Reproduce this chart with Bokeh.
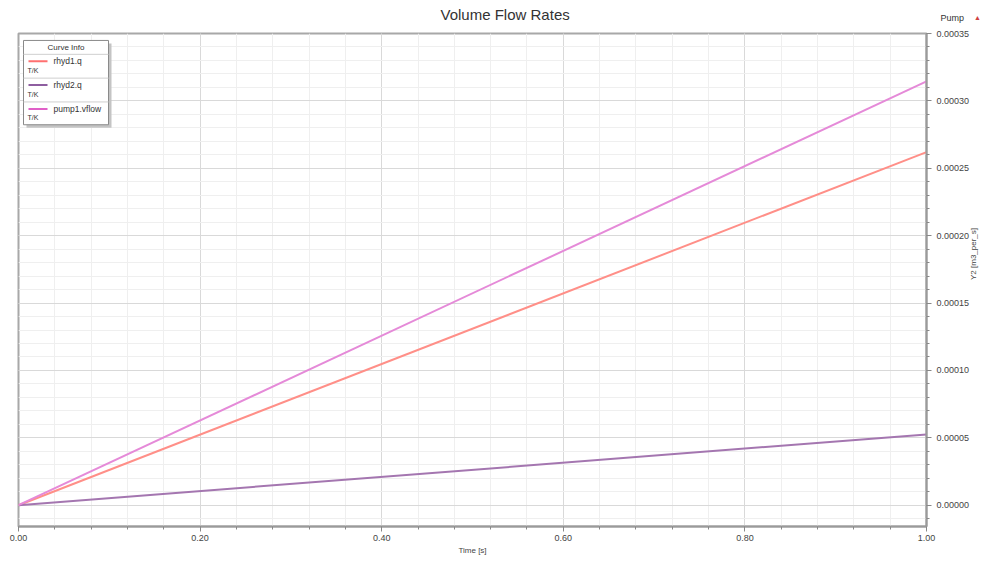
import math
from bokeh.plotting import figure
from bokeh.models import (Range1d, SingleIntervalTicker, PrintfTickFormatter, Label)
from bokeh.core.properties import value
from bokeh.embed import file_html
from bokeh.resources import INLINE

# ---------------- data ----------------
time_s = [0.0, 1.0]
rhyd1_q = [0.0, 0.000262]
rhyd2_q = [0.0, 0.0000525]
pump1_vflow = [0.0, 0.0003145]

series_names = ["rhyd1.q", "rhyd2.q", "pump1.vflow"]
series_values = [rhyd1_q, rhyd2_q, pump1_vflow]
series_colors = ["#ff8f88", "#a476b0", "#e58ad8"]
legend_colors = ["#ff7070", "#8e5ea0", "#e060c8"]
series_unit = "T/K"

title_text = "Volume Flow Rates"
x_label = "Time [s]"
y_label = "Y2 [m3_per_s]"
corner_text = "Pump"

X0, X1 = 0.0, 1.0
Y0, Y1 = -0.0000158, 0.00035

FONT = "Liberation Sans"

# canvas geometry (px from canvas top-left)
W, H = 985, 557
BL, BT, BR, BB = 18, 33, 51, 27
FL, FT = BL, BT
RIGHT_PANEL = 59  # width of the right axis panel as laid out


def frame_w():
    return W - BL - RIGHT_PANEL


def frame_h():
    return H - BT - BB


def dx(px):
    return X0 + (px - FL) / frame_w() * (X1 - X0)


def dy(py):
    return Y1 - (py - FT) / frame_h() * (Y1 - Y0)


p = figure(width=W, height=H,
           x_range=Range1d(X0, X1), y_range=Range1d(Y0, Y1),
           y_axis_location="right", output_backend="svg",
           toolbar_location=None, min_border_left=BL, min_border_top=BT,
           min_border_right=BR, min_border_bottom=BB)
p.background_fill_color = "white"
p.border_fill_color = "white"
p.outline_line_color = "#a8a8a8"
p.outline_line_width = 2

# title
p.title.text = title_text
p.title.align = "left"
p.title.offset = 422
p.title.standoff = 2
p.title.text_font = FONT
p.title.text_font_size = "15px"
p.title.text_font_style = "normal"
p.title.text_color = "#333333"

# axes
p.xaxis.ticker = SingleIntervalTicker(interval=0.2, num_minor_ticks=5)
p.yaxis.ticker = SingleIntervalTicker(interval=0.00005, num_minor_ticks=5)
p.xaxis.formatter = PrintfTickFormatter(format="%.2f")
p.yaxis.formatter = PrintfTickFormatter(format="%.5f")
for ax in (p.xaxis, p.yaxis):
    ax.axis_line_color = "#9a9a9a"
    ax.axis_line_width = 2
    ax.major_tick_line_color = "#888888"
    ax.minor_tick_line_color = "#888888"
    ax.major_tick_in = 0
    ax.major_tick_out = 5
    ax.minor_tick_in = 0
    ax.minor_tick_out = 3
    ax.major_label_text_font = FONT
    ax.major_label_text_font_size = "9px"
    ax.major_label_text_color = "#444444"
    ax.major_label_standoff = 3
    ax.axis_label_text_font = FONT
    ax.axis_label_text_font_size = "8px"
    ax.axis_label_text_font_style = "normal"
    ax.axis_label_text_color = "#444444"
p.xaxis.axis_label = x_label
p.xaxis.axis_label_standoff = 2
p.yaxis.axis_label = y_label
p.yaxis.axis_label_standoff = 1
p.yaxis.major_label_standoff = 5
try:
    p.yaxis.axis_label_orientation = math.pi / 2
except Exception:
    pass

# grids
for g in (p.xgrid, p.ygrid):
    g.grid_line_color = "#d9d9d9"
    g.grid_line_width = 1
    g.minor_grid_line_color = "#efefef"
    g.minor_grid_line_width = 1

# series lines
for name, vals, col in zip(series_names, series_values, series_colors):
    p.line(time_s, vals, line_color=col, line_width=2)

# ---------------- legend (Curve Info) ----------------
p.quad(left=[dx(26)], right=[dx(111)], top=[dy(43)], bottom=[dy(128)],
       fill_color="#c4c4c4", line_color=None)
p.quad(left=[dx(23)], right=[dx(108)], top=[dy(40)], bottom=[dy(125)],
       fill_color="white", line_color="#8a8a8a", line_width=1)
p.text(x=[dx(65.5)], y=[dy(47.5)], text=["Curve Info"], text_font=value(FONT),
       text_font_size="8px", text_align="center", text_baseline="middle",
       text_color="#333333")
sep_py = [54, 78, 102]
p.segment(x0=[dx(23)] * 3, x1=[dx(108)] * 3, y0=[dy(v) for v in sep_py],
          y1=[dy(v) for v in sep_py], line_color="#cfcfcf", line_width=1)
entry_py = [61, 85, 109]
for i, (name, col) in enumerate(zip(series_names, legend_colors)):
    yy = entry_py[i]
    p.segment(x0=[dx(28)], x1=[dx(47)], y0=[dy(yy)], y1=[dy(yy)],
              line_color=col, line_width=2)
    p.text(x=[dx(53)], y=[dy(yy)], text=[name], text_font=value(FONT),
           text_font_size="8.5px", text_baseline="middle", text_color="#333333")
    p.text(x=[dx(27)], y=[dy(yy + 9)], text=[series_unit], text_font=value(FONT),
           text_font_size="7px", text_baseline="middle", text_color="#333333")

# ---------------- corner texts (in side panels so they are not clipped) ----
p.add_layout(Label(x=dx(940), y=dy(17), text=corner_text,
                   text_font=FONT, text_font_size="9px", text_align="left",
                   text_baseline="middle", text_color="#333333"), "above")
p.add_layout(Label(x=dx(977), y=dy(17), text="▲",
                   text_font=FONT, text_font_size="7px", text_align="center",
                   text_baseline="middle", text_color="#d04040"), "left")

open("out.html", "w").write(file_html(p, INLINE))
